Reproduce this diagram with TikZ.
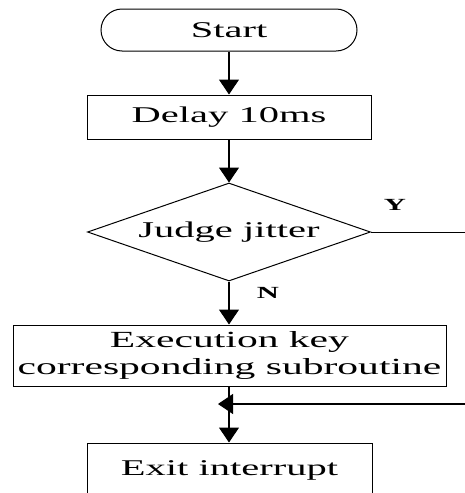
\documentclass[tikz,border=0pt]{standalone}
\usepackage{fontspec}
\setmainfont{Liberation Serif}[FakeStretch=1.8]
\usetikzlibrary{shapes.geometric,arrows.meta}

\begin{document}
\begin{tikzpicture}[x=1pt,y=-1pt,
  every node/.style={font=\fontsize{22.5}{27}\selectfont, inner sep=0pt},
  box/.style={draw, line width=1pt, rectangle},
  term/.style={draw, line width=1pt, rectangle, rounded corners=21pt,
               minimum width=256pt, minimum height=42pt},
  decide/.style={draw, line width=1pt, diamond, aspect=2.89,
                 minimum width=283pt, minimum height=98pt},
  lbl/.style={font=\fontsize{17}{19}\selectfont\bfseries},
  flow/.style={line width=1.1pt, -{Triangle[width=20pt,length=15pt]}},
  wire/.style={line width=1pt}]

  \useasboundingbox (0,0) rectangle (465,493);

  % main column of the flow chart
  \node[term] (start) at (229,30) {Start};
  \node[box, minimum width=284pt, minimum height=44pt] (delay) at (229,117) {Delay 10ms};
  \node[decide] (judge) at (229,232) {Judge jitter};
  \node[box, minimum width=433pt, minimum height=61pt, align=center,
        font=\fontsize{23.1}{27}\selectfont]
       (exec) at (229.5,355.5) {Execution key\\corresponding subroutine};
  \node[box, minimum width=285pt, minimum height=54pt] (exit) at (229.5,470) {Exit interrupt};

  % branch labels
  \node[lbl] (ylab) at (395,205) {Y};
  \node[lbl] (nlab) at (268,293) {N};

  % free ends of the side branch and the merge point
  \coordinate (yend) at (465,232);
  \coordinate (mstart) at (465,404);
  \coordinate (mtip) at (218,404);

  % connectors
  \draw[flow] (start.south) -- (delay.north);
  \draw[flow] (delay.south) -- (judge.north);
  \draw[flow] (judge.south) -- (exec.north -| judge.south);
  \draw[flow] (exec.south -| judge.south) -- (exit.north -| judge.south);
  \draw[wire] (judge.east) -- (yend);
  \draw[flow] (mstart) -- (mtip);
\end{tikzpicture}
\end{document}
